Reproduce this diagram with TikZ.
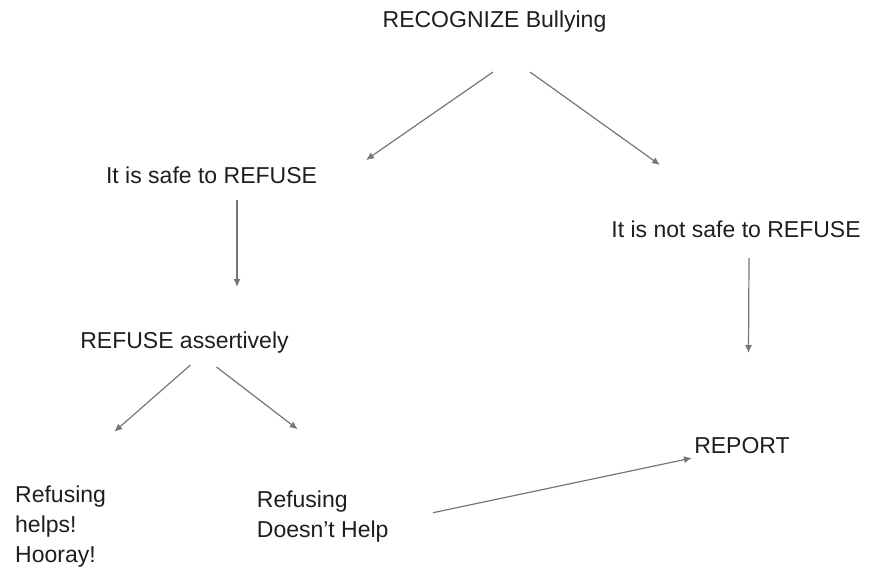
\documentclass[tikz,border=0pt]{standalone}
\usepackage{fontspec}
\setmainfont{Liberation Sans}
\usetikzlibrary{arrows.meta}
\definecolor{linkgray}{HTML}{767676}
\definecolor{textdark}{HTML}{1E1E1E}
\tikzstyle{txt} = [inner sep=0pt, text=textdark, font=\fontsize{23}{30}\selectfont]
\tikzstyle{link} = [draw, linkgray, line width=1.2pt, -{Latex[length=8pt,width=7pt]}]

\begin{document}
\begin{tikzpicture}[x=1pt, y=-1pt]
   \useasboundingbox (0,0) rectangle (872,567);
   % Place nodes
    \node [txt, anchor=base] (recog) at (494.5,28) {RECOGNIZE Bullying};
    \node [txt, anchor=base] (safe) at (211.5,183) {It is safe to REFUSE};
    \node [txt, anchor=base] (notsafe) at (736,237) {It is not safe to REFUSE};
    \node [txt, anchor=base] (assert) at (184.5,348) {REFUSE assertively};
    \node [txt, anchor=base] (report) at (742,453) {REPORT};
    \node [txt, anchor=base west, align=left] (helps) at (15,562) {Refusing\\helps!\\Hooray!};
    \node [txt, anchor=base west, align=left] (nohelp) at (256.7,537) {Refusing\\Doesn't Help};
   % Draw edges
    \path [link] ([shift={(-1.5,44)}]recog.base) -- ([shift={(154.5,-23)}]safe.base);
    \path [link] ([shift={(35.5,44)}]recog.base) -- ([shift={(-76,-72)}]notsafe.base);
    \path [link] ([shift={(25.5,17)}]safe.base) -- ([shift={(52.5,-61)}]assert.base);
    \path [link] ([shift={(13,21)}]notsafe.base) -- ([shift={(6.5,-100)}]report.base);
    \path [link] ([shift={(6,17)}]assert.base) -- ([shift={(99.3,-130.3)}]helps.base west);
    \path [link] ([shift={(32,19)}]assert.base) -- ([shift={(41,-107.7)}]nohelp.base west);
    \path [link] ([shift={(176.3,-24.3)}]nohelp.base west) -- ([shift={(-50,5)}]report.base);
  \end{tikzpicture}
\end{document}
